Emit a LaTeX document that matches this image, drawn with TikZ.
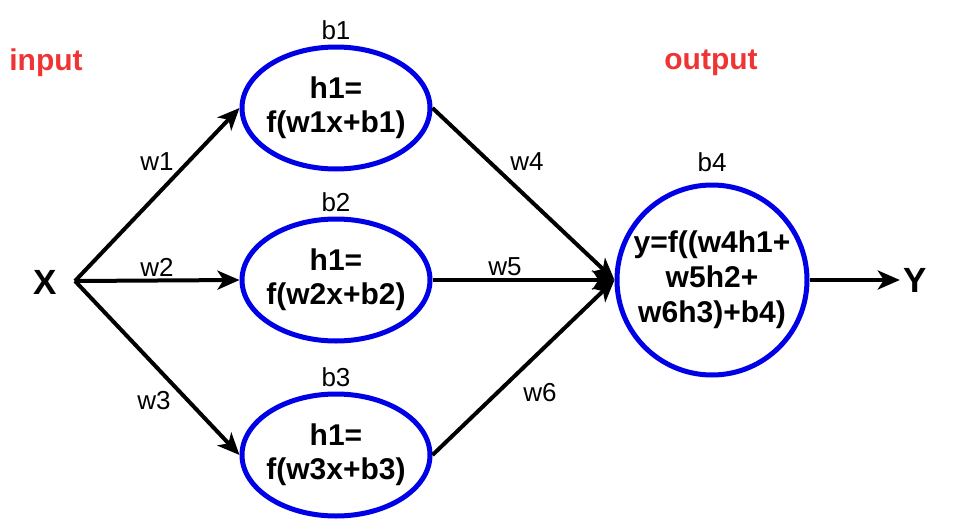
\documentclass[tikz,border=0pt]{standalone}
\usepackage{fontspec}
\setmainfont{Liberation Sans}
\usetikzlibrary{arrows.meta,shapes.geometric}

\definecolor{neuronblue}{RGB}{0,0,230}
\definecolor{layerred}{RGB}{238,52,52}

\tikzset{
    neuron/.style={draw=neuronblue, line width=5pt, ellipse, minimum width=188pt, minimum height=122pt, inner sep=-6pt, align=center, font=\bfseries\fontsize{30}{34}\selectfont},
    outneuron/.style={draw=neuronblue, line width=5pt, circle, minimum size=190pt, inner sep=-4pt, align=center, font=\bfseries\fontsize{30}{35}\selectfont},
    weight/.style={font=\fontsize{26}{30}\selectfont},
    layer/.style={text=layerred, font=\bfseries\fontsize{30}{34}\selectfont},
    var/.style={font=\bfseries\fontsize{35}{40}\selectfont},
    conn/.style={line width=4pt, -{Stealth[length=22pt,width=19pt,inset=6pt]}}
}

\begin{document}
\begin{tikzpicture}[x=1pt,y=-1pt]
    \useasboundingbox (0,0) rectangle (956,530);

    \node[layer] (input) at (46,63) {input};
    \node[layer] (output) at (711,63) {output};

    \node[var] (X) at (45,282) {X};
    \coordinate (hub) at (75,281);
    \node[neuron] (h1) at (336,108) {h1=\\f(w1x+b1)};
    \node[neuron] (h2) at (336,280) {h1=\\f(w2x+b2)};
    \node[neuron] (h3) at (336,455) {h1=\\f(w3x+b3)};
    \node[outneuron] (out) at (712,280) {y=f((w4h1+\\w5h2+\\w6h3)+b4)};
    \node[var] (Y) at (915,280) {Y};

    \node[weight] (b1) at (336,30) {b1};
    \node[weight] (b2) at (336,202) {b2};
    \node[weight] (b3) at (336,377) {b3};
    \node[weight] (b4) at (712,162) {b4};

    \node[weight] (w1) at (157,162) {w1};
    \node[weight] (w2) at (157,267) {w2};
    \node[weight] (w3) at (154,401) {w3};
    \node[weight] (w4) at (527,162) {w4};
    \node[weight] (w5) at (505,267) {w5};
    \node[weight] (w6) at (540,393) {w6};

    \draw[conn] (hub) -- (h1.west);
    \draw[conn] (hub) -- (h2.west);
    \draw[conn] (hub) -- (h3.west);

    \draw[conn] (h1.east) -- (out.west);
    \draw[conn] (h2.east) -- (out.west);
    \draw[conn] (h3.east) -- (out.west);

    \draw[conn] (out.east) -- (Y.west);
\end{tikzpicture}
\end{document}
